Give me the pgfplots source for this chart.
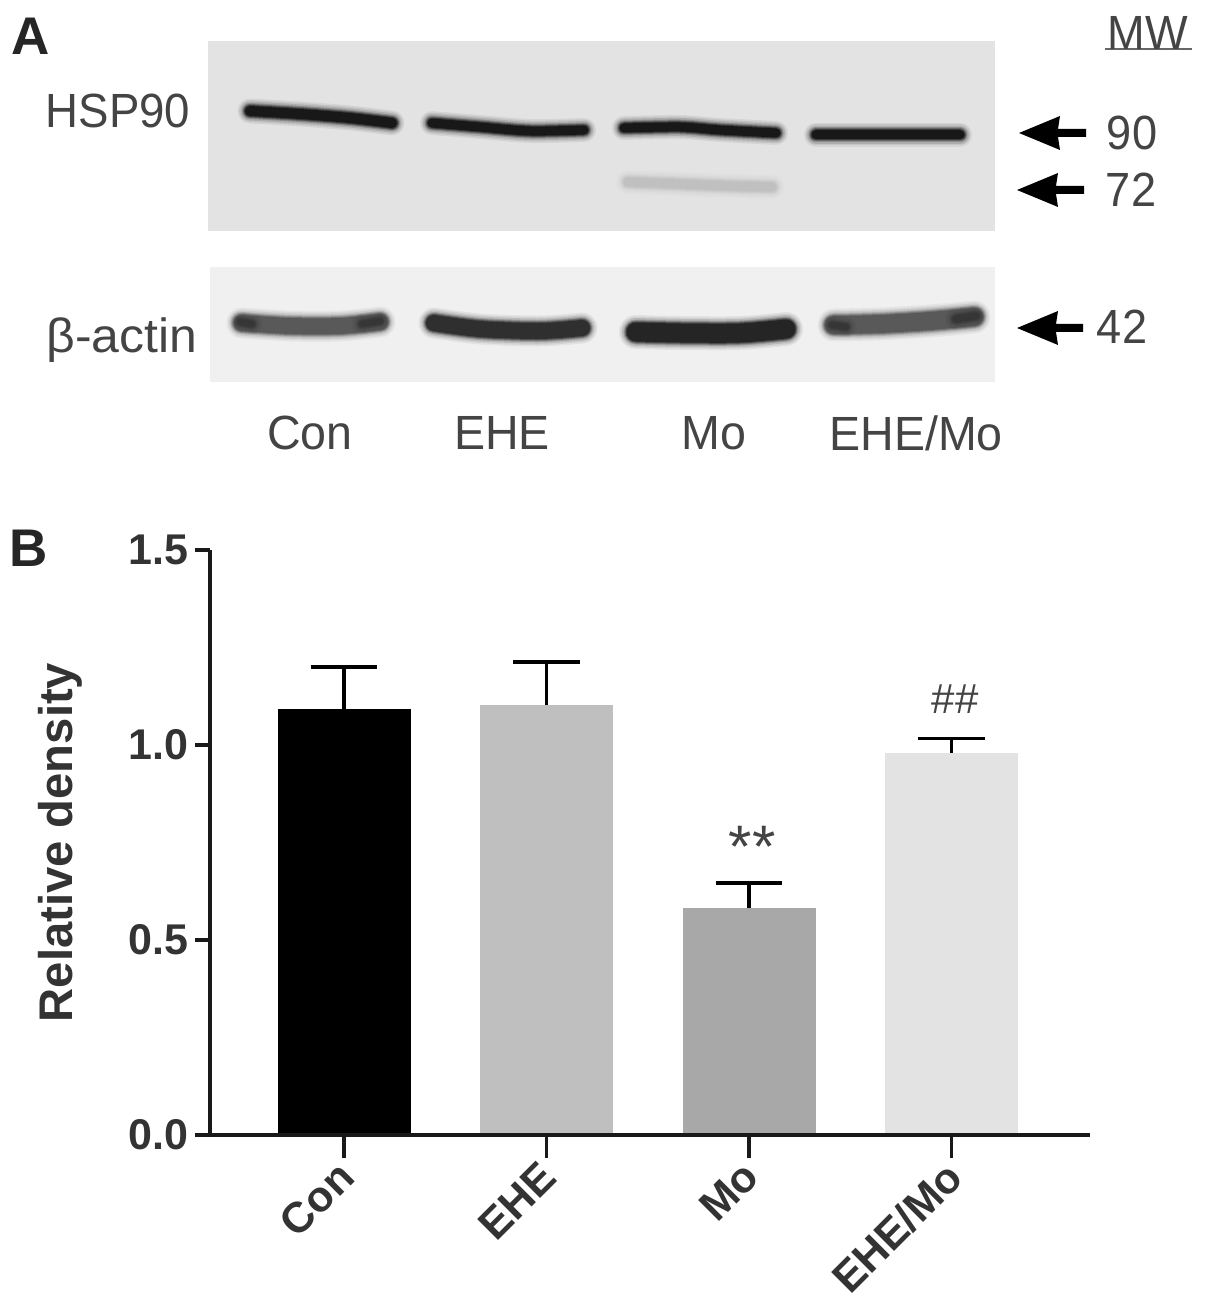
\documentclass[border=0pt]{standalone}
\usepackage{fontspec}
\setmainfont{Liberation Sans}
\usepackage{pgfplots}
\pgfplotsset{compat=1.18}
\definecolor{txt}{HTML}{444444}

% one soft western blot band: width in px, colour, coordinates
\newcommand{\band}[3]{%
  \addplot[smooth, line cap=round, draw=#2, opacity=.06, line width={(#1+15)*0.5pt}] coordinates {#3};
  \addplot[smooth, line cap=round, draw=#2, opacity=.08, line width={(#1+12)*0.5pt}] coordinates {#3};
  \addplot[smooth, line cap=round, draw=#2, opacity=.12, line width={(#1+9)*0.5pt}] coordinates {#3};
  \addplot[smooth, line cap=round, draw=#2, opacity=.18, line width={(#1+6)*0.5pt}] coordinates {#3};
  \addplot[smooth, line cap=round, draw=#2, opacity=.28, line width={(#1+4)*0.5pt}] coordinates {#3};
  \addplot[smooth, line cap=round, draw=#2, opacity=.40, line width={(#1+2)*0.5pt}] coordinates {#3};
  \addplot[smooth, line cap=round, draw=#2, opacity=.60, line width={(#1)*0.5pt}] coordinates {#3};
}
% arrow pointing left: tip x, y, end x
\newcommand{\blotarrow}[3]{%
  \addplot[fill=black, draw=none] coordinates {(#1,#2) (#1+41,#2-17) (#1+39,#2-4) (#3,#2-4) (#3,#2+4) (#1+39,#2+4) (#1+41,#2+17)};
}

\begin{document}
\begin{tikzpicture}
\useasboundingbox (0,0) rectangle (602.5pt,652.5pt);

% panel A, laid out in image pixels
\begin{axis}[
    at={(0pt,0pt)}, anchor=south west,
    scale only axis, width=602.5pt, height=652.5pt,
    xmin=0, xmax=1205, ymin=0, ymax=1305, y dir=reverse,
    hide axis, clip=false,
    nodes={text=txt, font=\fontsize{24}{28}\selectfont, inner sep=0pt}
]
\addplot[fill=black!11, draw=none] coordinates {(208,41) (995,41) (995,231) (208,231)};
\addplot[fill=black!6, draw=none] coordinates {(210,267) (995,267) (995,382) (210,382)};

% HSP90 row
\band{10}{black}{(250,111) (300,114) (350,118) (392,123)}
\band{9}{black}{(432,123) (480,127) (530,131) (584,130)}
\band{9}{black}{(624,128) (680,127) (720,130) (776,133)}
\band{9}{black}{(816,135) (870,135) (920,135) (960,135)}
\band{9}{black!26}{(628,182) (680,184) (730,186) (772,187)}

% actin row
\band{16}{black!72}{(242,323) (290,326) (340,326) (380,322)}
\band{16}{black!90}{(434,323) (480,329) (540,331) (582,328)}
\band{19}{black!95}{(636,332) (680,333) (740,333) (786,329)}
\band{18}{black!72}{(834,325) (880,324) (930,321) (974,317)}
\band{6}{black!80}{(240,322) (252,324)}
\band{6}{black!80}{(362,324) (380,321)}
\band{6}{black!80}{(832,325) (846,327)}
\band{7}{black!80}{(956,319) (976,316)}

\blotarrow{1019}{133}{1086}
\blotarrow{1017}{190}{1084}
\blotarrow{1017}{328}{1083}

\addplot[draw=black!60, line width=1pt] coordinates {(1105,49) (1192,49)};

\node[font=\bfseries\fontsize{26.5}{30}\selectfont, text=black!85] at (axis cs:31,36) {A};
\node[font=\bfseries\fontsize{26.5}{30}\selectfont, text=black!85] at (axis cs:29,548) {B};
\node[xscale=.95] at (axis cs:118,111) {HSP90};
\node[xscale=1.04] at (axis cs:122,340) {β-actin};
\node[xscale=.94] at (axis cs:1148,33) {MW};
\node[xscale=.94] at (axis cs:1132,133) {90};
\node[xscale=.94] at (axis cs:1131,190) {72};
\node[xscale=.94] at (axis cs:1122,327) {42};
\node[xscale=.97] at (axis cs:310,433) {Con};
\node[xscale=.97] at (axis cs:502,433) {EHE};
\node[xscale=.97] at (axis cs:714,433) {Mo};
\node[xscale=.97] at (axis cs:916,433) {EHE/Mo};
\node[font=\fontsize{30}{34}\selectfont] at (axis cs:752,847) {**};
\node[font=\fontsize{21}{25}\selectfont] at (axis cs:955,699) {\#\#};
\end{axis}

% panel B
\begin{axis}[
    at={(105pt,85pt)}, anchor=south west,
    scale only axis, width=440pt, height=292.5pt,
    xmin=-0.662, xmax=3.684, ymin=0, ymax=1.5,
    axis lines=left, axis line style={-, line width=2pt, black!90},
    axis on top,
    tick align=outside, tick style={line width=1.6pt, black!90},
    major tick length=7.5pt,
    xtick={0,1,2,3}, xticklabels={Con,EHE,Mo,EHE/Mo},
    xtick style={/pgfplots/major tick length=11.5pt},
    ytick={0,0.5,1,1.5},
    tick label style={font=\bfseries\fontsize{21.5}{25}\selectfont, text=black!80},
    yticklabel style={/pgf/number format/fixed, /pgf/number format/fixed zerofill,
        /pgf/number format/precision=1, /pgf/number format/assume math mode=true},
    xticklabel style={rotate=45, anchor=north east, inner sep=2pt, xshift=-4pt, yshift=2pt},
    ylabel={Relative density},
    ylabel style={font=\bfseries\fontsize{23.6}{28}\selectfont, text=black!80},
    ylabel shift=16pt,
    ybar, bar width=0.657, bar shift=0pt,
    error bars/y dir=plus, error bars/y explicit,
    error bars/error bar style={line width=1.6pt, black},
    error bars/error mark options={rotate=90, mark size=16.7pt, line width=1.6pt, black}
]
\addplot[fill=black, draw=none] coordinates {(0,1.092) +- (0,0.108)};
\addplot[fill=black!25, draw=none] coordinates {(1,1.103) +- (0,0.110)};
\addplot[fill=black!34, draw=none] coordinates {(2,0.582) +- (0,0.064)};
\addplot[fill=black!11, draw=none] coordinates {(3,0.980) +- (0,0.036)};
\end{axis}
\end{tikzpicture}
\end{document}
